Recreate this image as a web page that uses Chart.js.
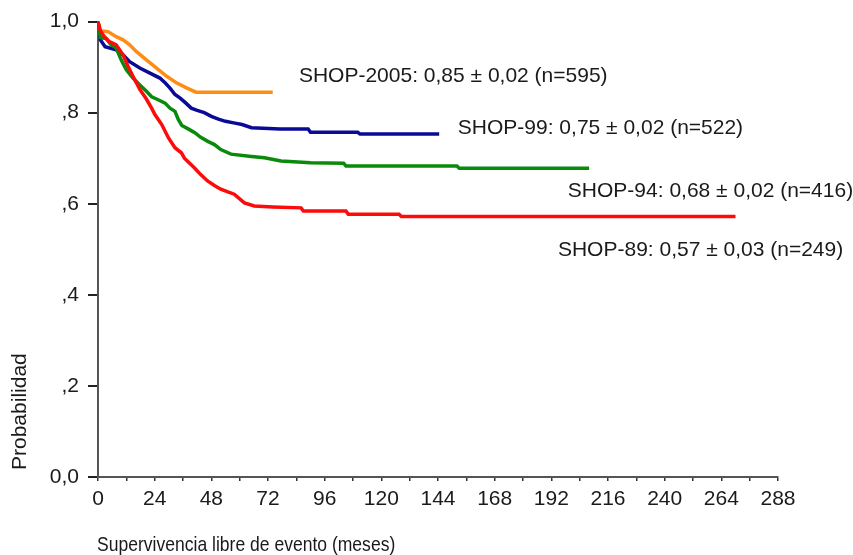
<!DOCTYPE html>
<html>
<head>
<meta charset="utf-8">
<script src="https://cdn.jsdelivr.net/npm/chart.js@4"></script>
<style>
  html, body { margin: 0; padding: 0; background: #fff; }
  #wrap { width: 853px; height: 555px; position: relative; }
</style>
</head>
<body>
<div id="wrap"><canvas id="km"></canvas></div>
<script>
/* ── Data (meses, probabilidad) ── */
const shop2005Months = [0, 1, 4.2, 7.7, 10.6, 13.4, 16.3, 20.5, 24.8, 29.1, 33.4, 37.7, 41.5, 74];
const shop2005Prob   = [1.0, 0.98, 0.978, 0.967, 0.96, 0.949, 0.934, 0.916, 0.898, 0.88, 0.865, 0.854, 0.845, 0.845];

const shop99Months = [0, 1, 3, 7.7, 10.6, 13.4, 17.7, 22, 26.2, 28.5, 30.5, 32.6, 34.8, 37, 39.5, 42, 45, 48, 51, 54, 58, 61, 65, 77, 89, 90, 110, 111, 144.5];
const shop99Prob   = [1.0, 0.96, 0.945, 0.938, 0.927, 0.912, 0.898, 0.887, 0.876, 0.865, 0.854, 0.84, 0.832, 0.822, 0.81, 0.805, 0.80, 0.792, 0.786, 0.781, 0.777, 0.774, 0.767, 0.764, 0.764, 0.757, 0.757, 0.753, 0.753];

const shop94Months = [0, 1, 3.4, 5.6, 7.7, 9.8, 12, 14.8, 17.7, 20.5, 22.7, 24.8, 28.4, 30.5, 32.6, 34, 35.5, 38, 41, 43.5, 46.5, 49.3, 52, 56.3, 65, 70.5, 77.5, 90, 104, 105, 152, 153, 208];
const shop94Prob   = [1.0, 0.965, 0.963, 0.949, 0.942, 0.916, 0.894, 0.876, 0.861, 0.847, 0.835, 0.83, 0.821, 0.81, 0.803, 0.785, 0.772, 0.765, 0.756, 0.746, 0.737, 0.73, 0.719, 0.709, 0.704, 0.701, 0.694, 0.69, 0.689, 0.683, 0.683, 0.678, 0.678];

const shop89Months = [0, 1, 2.7, 4.8, 7.7, 10.6, 12.7, 14.8, 17.7, 20.5, 22.7, 24.1, 27, 29.8, 32.6, 35.3, 36.6, 40.8, 43.5, 46.4, 49.3, 52, 55, 57.7, 62, 66.2, 74, 86, 87, 105, 106, 127.5, 128.5, 270];
const shop89Prob   = [1.0, 0.98, 0.967, 0.956, 0.949, 0.927, 0.902, 0.88, 0.851, 0.83, 0.81, 0.796, 0.774, 0.745, 0.723, 0.712, 0.70, 0.679, 0.664, 0.65, 0.64, 0.632, 0.626, 0.621, 0.602, 0.595, 0.593, 0.591, 0.584, 0.584, 0.577, 0.577, 0.572, 0.572];

const seriesNames  = ['SHOP-2005', 'SHOP-99', 'SHOP-94', 'SHOP-89'];
const seriesColors = ['#ff8c14', '#0a0a96', '#0a8a0a', '#ff0a0a'];
const seriesLabels = [
  'SHOP-2005: 0,85 ± 0,02 (n=595)',
  'SHOP-99: 0,75 ± 0,02 (n=522)',
  'SHOP-94: 0,68 ± 0,02 (n=416)',
  'SHOP-89: 0,57 ± 0,03 (n=249)'
];
/* dónde va cada texto (meses, probabilidad) */
const labelAnchors = [[85.1, 0.88], [152.4, 0.766], [199, 0.628], [194.8, 0.497]];

const xTitle = 'Supervivencia libre de evento (meses)';
const yTitle = 'Probabilidad';
const xTicks = [0, 24, 48, 72, 96, 120, 144, 168, 192, 216, 240, 264, 288];
const yTickText = { '1': '1,0', '0.8': ',8', '0.6': ',6', '0.4': ',4', '0.2': ',2', '0': '0,0' };

const FONT = 'Liberation Sans, Arial, sans-serif';
const TXT = '#1a1a1a';

function pts(xs, ys) { return xs.map((x, i) => ({ x, y: ys[i] })); }

const allData = [
  pts(shop2005Months, shop2005Prob),
  pts(shop99Months, shop99Prob),
  pts(shop94Months, shop94Prob),
  pts(shop89Months, shop89Prob)
];

/* textos junto a las curvas + títulos de ejes (el del eje x va estrechado) */
const curveLabels = {
  id: 'curveLabels',
  afterDatasetsDraw(chart) {
    const { ctx, scales: { x, y } } = chart;
    ctx.save();
    ctx.font = '21px ' + FONT;
    ctx.fillStyle = TXT;
    ctx.textBaseline = 'middle';
    seriesLabels.forEach((t, i) => {
      ctx.fillText(t, x.getPixelForValue(labelAnchors[i][0]), y.getPixelForValue(labelAnchors[i][1]));
    });

    // eje x
    ctx.save();
    ctx.translate(x.left - 1, 545);
    ctx.scale(0.835, 1);
    ctx.textAlign = 'left';
    ctx.fillText(xTitle, 0, 0);
    ctx.restore();

    // eje y
    ctx.save();
    ctx.translate(20, 470);
    ctx.rotate(-Math.PI / 2);
    ctx.textAlign = 'left';
    ctx.fillText(yTitle, 0, 0);
    ctx.restore();
    ctx.restore();
  }
};

new Chart(document.getElementById('km'), {
  type: 'line',
  data: {
    datasets: allData.map((d, i) => ({
      label: seriesNames[i], data: d,
      borderColor: seriesColors[i], backgroundColor: seriesColors[i],
      borderWidth: 3.5, pointRadius: 0, tension: 0, fill: false
    })).reverse()
  },
  options: {
    responsive: true, maintainAspectRatio: false, animation: false,
    layout: { padding: { top: 20, right: 75, left: 0, bottom: 0 } },
    plugins: { legend: { display: false }, tooltip: { enabled: false } },
    scales: {
      x: {
        type: 'linear', min: 0, max: 288,
        afterFit: s => { s.height = 78; },
        afterBuildTicks: s => { s.ticks = Array.from({ length: 25 }, (_, i) => ({ value: i * 12 })); },
        ticks: {
          color: TXT, font: { family: FONT, size: 21 }, padding: 6,
          maxRotation: 0, autoSkip: false,
          callback: v => xTicks.includes(v) ? String(v) : ''
        },
        grid: { drawOnChartArea: false, drawTicks: true, tickLength: 4, color: '#333', lineWidth: 1.5 },
        border: { display: true, color: '#555', width: 2 }
      },
      y: {
        min: 0, max: 1,
        afterFit: s => { s.width = 98; },
        ticks: {
          stepSize: 0.2, color: TXT, font: { family: FONT, size: 21 }, padding: 9,
          callback: v => yTickText[String(Math.round(v * 10) / 10)]
        },
        grid: { drawOnChartArea: false, drawTicks: true, tickLength: 10, color: '#222', lineWidth: 2 },
        border: { display: true, color: '#555', width: 2 }
      }
    }
  },
  plugins: [curveLabels]
});
</script>
</body>
</html>
